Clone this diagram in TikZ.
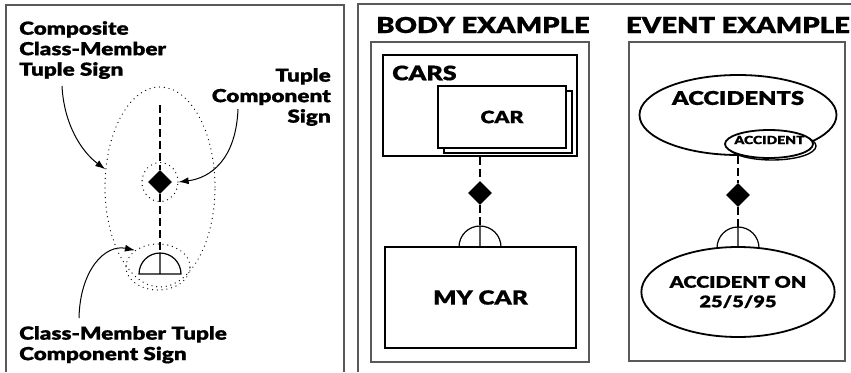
\documentclass[tikz,border=0pt]{standalone}
\usepackage{fontspec}
\setmainfont{Lato}[BoldFont={Lato Black}, BoldFeatures={FakeStretch=1.25, FakeBold=0.6}]
\usetikzlibrary{arrows.meta,shapes.geometric}

\begin{document}
\begin{tikzpicture}[
  x=1pt, y=-1pt,
  >=Latex,
  every node/.style={font=\bfseries, inner sep=0pt},
  frame/.style={draw=black!65, line width=1.3pt},
  thickbox/.style={draw, line width=1.8pt, fill=white},
  sign/.style={diamond, fill=black, minimum width=24pt, minimum height=24pt},
  link/.style={line width=1.2pt, dash pattern=on 8pt off 4pt},
  ring/.style={ellipse, draw, line width=1.3pt, line cap=round,
               dash pattern=on 0pt off 4.8pt},
  pointer/.style={-{Latex[length=10pt,width=7pt]}, line width=1pt},
  half/.style={line width=1.2pt},
  title/.style={font=\bfseries\fontsize{22}{24}\selectfont},
  callout/.style={font=\bfseries\fontsize{18}{20.5}\selectfont},
]
  \useasboundingbox (0,0) rectangle (851,372);

  % panels
  \draw[frame] (6,372) -- (6,5) -- (344,5) -- (344,372);
  \draw[frame] (358,372) -- (358,4) -- (851,4);

  % legend
  \node[ring, minimum width=110pt, minimum height=200pt] (tuple) at (160,187) {};
  \node[ring, minimum width=36pt, minimum height=39pt] (ring1) at (160,182) {};
  \node[ring, minimum width=64pt, minimum height=46pt] (ring2) at (158,267) {};
  \node[sign] (d1) at (160,182) {};
  \coordinate (t1) at (160,105);
  \coordinate (h1) at (160,253);
  \draw[link] (t1) -- (d1);
  \draw[link] (d1) -- (h1);
  \draw[half] (139,274) arc[start angle=180, end angle=0, radius=21pt] -- cycle
    (h1) -- (160,274);

  \node[callout, anchor=north west, align=left] (lblA) at (19,21)
    {Composite\\Class-Member\\Tuple Sign};
  \node[callout, anchor=north east, align=right] (lblB) at (331,68)
    {Tuple\\Component\\Sign};
  \node[callout, anchor=north west, align=left] (lblC) at (19,326)
    {Class-Member Tuple\\Component Sign};

  \coordinate (a1) at (62,86);
  \coordinate (a2) at (238,109);
  \coordinate (a3) at (79,318);
  \draw[pointer] (a1) .. controls (64,125) and (82,152) .. (tuple.162);
  \draw[pointer] (a2) .. controls (236,160) and (210,178) .. (ring1.east);
  \draw[pointer] (a3) .. controls (80,270) and (105,244) .. (ring2.144);

  % body example
  \node[title] (bodyT) at (483,25) {BODY EXAMPLE};
  \draw[frame] (371,42) rectangle (589,362);
  \node[thickbox, minimum width=194pt, minimum height=101pt] (cars) at (480,105.5) {};
  \node[font=\bfseries\fontsize{20}{24}\selectfont, anchor=west] (carsT) at (392,73) {CARS};
  \node[thickbox, line width=1.4pt, minimum width=128pt, minimum height=62pt] (carB) at (508,122) {};
  \node[thickbox, minimum width=128pt, minimum height=62pt,
        font=\bfseries\fontsize{17}{20}\selectfont] (car) at (502,117) {CAR};
  \node[sign] (d2) at (480,193) {};
  \coordinate (h2) at (480,226);
  \draw[link] (cars) -- (d2);
  \draw[link] (d2) -- (h2);
  \draw[half] (459,247) arc[start angle=180, end angle=0, radius=21pt] -- cycle
    (h2) -- (480,247);
  \node[thickbox, minimum width=191pt, minimum height=101pt,
        font=\bfseries\fontsize{19.5}{22}\selectfont] (mycar) at (480.5,297.5) {MY CAR};

  % event example
  \node[title] (eventT) at (738,25) {EVENT EXAMPLE};
  \draw[frame] (629,42) rectangle (845,361);
  \node[ellipse, thickbox, minimum width=197pt, minimum height=80pt] (accs) at (738,115) {};
  \node[font=\bfseries\fontsize{19}{24}\selectfont] (accsT) at (738,98) {ACCIDENTS};
  \node[ellipse, thickbox, line width=1.4pt, minimum width=88pt, minimum height=28pt] (accB) at (772,146) {};
  \node[ellipse, thickbox, minimum width=88pt, minimum height=28pt] (acc) at (769,144) {};
  \node[font=\bfseries\fontsize{11.2}{14}\selectfont] (accT) at (769.5,140) {ACCIDENT};
  \node[sign] (d3) at (738,195) {};
  \coordinate (h3) at (738,227);
  \draw[link] (accs) -- (d3);
  \draw[link] (d3) -- (h3);
  \draw[half] (717,248) arc[start angle=180, end angle=0, radius=21pt] -- cycle
    (h3) -- (738,248);
  \node[ellipse, thickbox, minimum width=192pt, minimum height=90pt, align=center,
        font=\bfseries\fontsize{16}{19.5}\selectfont] (onDate) at (738,292)
    {ACCIDENT ON\\25/5/95};
\end{tikzpicture}
\end{document}
